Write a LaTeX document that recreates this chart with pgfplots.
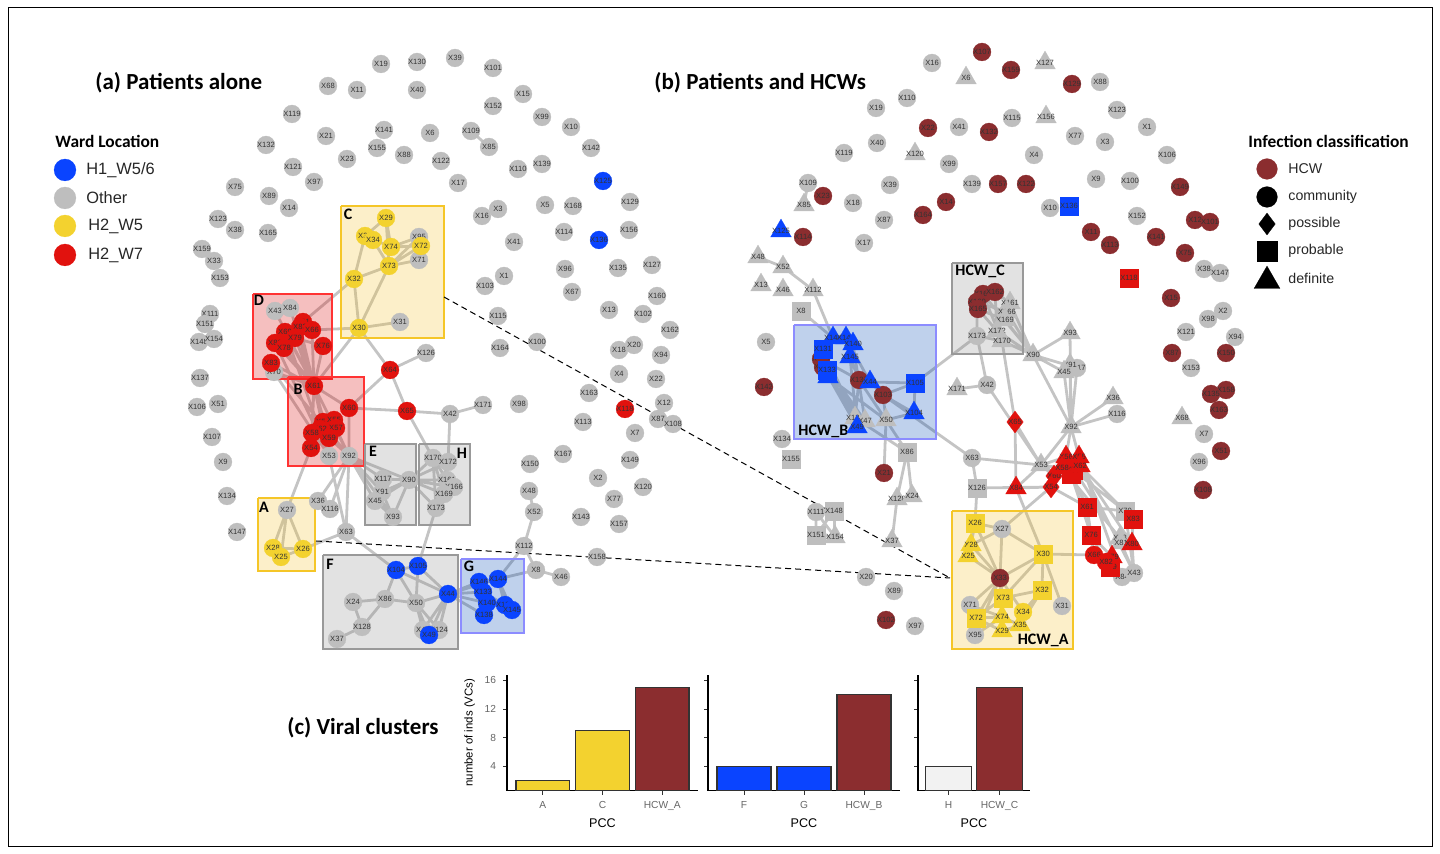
\documentclass[border=0pt]{standalone}
\usepackage{pgfplots}
\pgfplotsset{compat=1.18}
\usepackage{fontspec}
\setmainfont{Liberation Sans}
\newfontfamily\carl{Carlito}
\definecolor{cgray}{HTML}{BEBEBE}
\definecolor{cblue}{HTML}{0A44FF}
\definecolor{cyel}{HTML}{F3D22F}
\definecolor{cred}{HTML}{E1120E}
\definecolor{chcw}{HTML}{8B2D2F}
\definecolor{cedge}{HTML}{C4C4C4}
\newcommand\lab{\fontsize{3.8}{4}\selectfont}
\pgfplotsset{
 ndbase/.style={only marks, nodes near coords, point meta=explicit symbolic,
   nodes near coords align={center},
   every node near coord/.append style={font=\lab, text=black!80, inner sep=0pt}},
 ndc/.style={ndbase, mark=*, mark size=4.5pt, mark options={draw=#1, fill=#1, line width=0.1pt}},
 ndt/.style={ndbase, mark=triangle*, mark size=6pt, mark options={draw=#1, fill=#1, line width=0.1pt}},
 nds/.style={ndbase, mark=square*, mark size=4.5pt, mark options={draw=#1, fill=#1, line width=0.1pt}},
 ndd/.style={ndbase, mark=diamond*, mark size=5.5pt, mark options={draw=#1, fill=#1, line width=0.1pt}},
 lg/.style={only marks, mark options={draw=#1, fill=#1, line width=0.1pt}},
 edge/.style={mark=none, color=cedge, line width=1.4pt},
 boxp/.style 2 args={mark=none, fill=#1, fill opacity=0.25, draw=#2, line width=0.6pt},
 barax/.style={width=#1, height=58pt, scale only axis, ymin=0.6, ymax=16.8,
   axis lines*=left, axis line style={-, black, line width=0.6pt},
   ybar, bar width=0.9, bar shift=0pt, ytick={4,8,12,16},
   tick style={black!80, line width=0.5pt}, major tick length=2pt, tick align=outside,
   ticklabel style={font=\fontsize{5.1}{5.5}\selectfont, text=black!60},
   /pgf/number format/assume math mode=true,
   xlabel=PCC, x label style={font=\fontsize{6.3}{6.5}\selectfont, yshift=3pt},
   enlarge x limits=false, xtick={0,1,2}},
 bar/.style={fill=#1, draw=black!80, line width=0.6pt},
}
\begin{document}
\begin{tikzpicture}
\useasboundingbox (0,0) rectangle (720pt,427pt);
\begin{axis}[width=720pt, height=427pt, scale only axis, at={(0,0)}, anchor=south west,
  xmin=0, xmax=1440, ymin=0, ymax=854, y dir=reverse, axis lines=none, ticks=none,
  clip=false, unbounded coords=jump]
% frame
\addplot[mark=none, black, line width=0.5pt] coordinates {(8,8) (1432,8) (1432,846) (8,846) (8,8)};
% ---------------- panel (a) edges
\addplot[edge] coordinates {
(471,131) (489,147) (nan,nan)
(386,218) (365,236) (nan,nan) (386,218) (391,247) (nan,nan) (386,218) (389,266) (nan,nan)
(365,236) (354,279) (nan,nan) (373,240) (389,266) (nan,nan) (365,236) (391,247) (nan,nan)
(391,247) (421,246) (nan,nan) (391,247) (419,237) (nan,nan) (389,266) (419,260) (nan,nan)
(389,266) (421,246) (nan,nan) (389,266) (354,279) (nan,nan) (389,266) (419,237) (nan,nan)
(354,279) (359,328) (nan,nan) (389,266) (359,328) (nan,nan) (359,328) (400,322) (nan,nan)
(359,328) (390,370) (nan,nan) (359,328) (312,330) (nan,nan) (354,279) (303,322) (nan,nan)
(359,328) (314,386) (nan,nan)
(275,311) (314,386) (nan,nan) (290,308) (314,386) (nan,nan) (285,332) (314,386) (nan,nan)
(275,343) (314,386) (nan,nan) (284,348) (314,386) (nan,nan) (271,363) (314,386) (nan,nan)
(274,372) (314,386) (nan,nan) (295,338) (314,386) (nan,nan) (323,346) (314,386) (nan,nan)
(312,330) (314,386) (nan,nan) (300,327) (314,386) (nan,nan)
(275,311) (290,308) (nan,nan) (285,332) (300,327) (nan,nan) (300,327) (312,330) (nan,nan)
(275,343) (284,348) (nan,nan) (295,338) (323,346) (nan,nan)
(314,386) (329,456) (nan,nan) (314,386) (349,456) (nan,nan) (314,386) (329,438) (nan,nan)
(314,386) (311,448) (nan,nan) (314,386) (312,433) (nan,nan)
(275,343) (329,456) (nan,nan) (271,363) (349,456) (nan,nan) (285,332) (329,456) (nan,nan)
(274,372) (329,456) (nan,nan)
(314,386) (349,408) (nan,nan) (349,408) (390,370) (nan,nan) (349,408) (407,411) (nan,nan)
(349,408) (349,456) (nan,nan) (390,370) (426,353) (nan,nan) (390,370) (407,411) (nan,nan)
(407,411) (450,414) (nan,nan) (450,414) (483,405) (nan,nan) (450,414) (448,462) (nan,nan)
(407,411) (433,458) (nan,nan)
(323,422) (334,420) (nan,nan) (323,422) (320,429) (nan,nan) (334,420) (336,428) (nan,nan)
(336,428) (329,438) (nan,nan) (312,433) (329,438) (nan,nan) (311,448) (312,433) (nan,nan)
(329,438) (349,456) (nan,nan) (336,428) (349,456) (nan,nan) (329,456) (329,438) (nan,nan)
(311,448) (287,510) (nan,nan)
(287,510) (273,548) (nan,nan) (287,510) (281,557) (nan,nan) (287,510) (303,549) (nan,nan)
(273,548) (281,557) (nan,nan) (281,557) (303,549) (nan,nan) (273,548) (303,549) (nan,nan)
(303,549) (346,532) (nan,nan) (346,532) (349,456) (nan,nan) (329,456) (346,532) (nan,nan)
(346,532) (396,570) (nan,nan)
(349,456) (318,501) (nan,nan) (349,456) (330,509) (nan,nan) (349,456) (383,479) (nan,nan)
(349,456) (382,492) (nan,nan) (349,456) (375,501) (nan,nan) (349,456) (393,517) (nan,nan)
(349,456) (409,480) (nan,nan)
(409,480) (383,479) (nan,nan) (409,480) (382,492) (nan,nan) (409,480) (375,501) (nan,nan)
(409,480) (393,517) (nan,nan) (382,492) (375,501) (nan,nan) (375,501) (393,517) (nan,nan)
(382,492) (393,517) (nan,nan) (383,479) (382,492) (nan,nan) (409,480) (433,458) (nan,nan)
(409,480) (448,462) (nan,nan) (409,480) (447,480) (nan,nan) (409,480) (454,487) (nan,nan)
(409,480) (444,494) (nan,nan) (409,480) (436,508) (nan,nan) (433,458) (436,508) (nan,nan)
(448,462) (436,508) (nan,nan) (433,458) (447,480) (nan,nan) (433,458) (444,494) (nan,nan)
(444,494) (436,508) (nan,nan) (454,487) (436,508) (nan,nan) (447,480) (436,508) (nan,nan)
(436,508) (418,566) (nan,nan)
(396,570) (418,566) (nan,nan) (396,570) (385,599) (nan,nan) (396,570) (416,603) (nan,nan)
(418,566) (416,603) (nan,nan) (418,566) (448,594) (nan,nan) (396,570) (448,594) (nan,nan)
(448,594) (416,603) (nan,nan) (448,594) (423,630) (nan,nan) (448,594) (439,630) (nan,nan)
(448,594) (429,635) (nan,nan) (416,603) (423,630) (nan,nan) (416,603) (439,630) (nan,nan)
(385,599) (416,603) (nan,nan) (385,599) (353,602) (nan,nan) (385,599) (362,627) (nan,nan)
(353,602) (362,627) (nan,nan) (362,627) (337,639) (nan,nan) (416,603) (429,635) (nan,nan)
(448,594) (479,582) (nan,nan) (448,594) (483,592) (nan,nan) (448,594) (487,603) (nan,nan)
(448,594) (484,615) (nan,nan) (448,594) (498,579) (nan,nan) (479,582) (498,579) (nan,nan)
(479,582) (483,592) (nan,nan) (483,592) (487,603) (nan,nan) (487,603) (505,605) (nan,nan)
(505,605) (512,610) (nan,nan) (487,603) (484,615) (nan,nan) (498,579) (505,605) (nan,nan)
(498,579) (512,610) (nan,nan) (483,592) (505,605) (nan,nan)
(498,579) (524,546) (nan,nan) (498,579) (536,570) (nan,nan) (524,546) (534,512) (nan,nan)
(534,512) (529,491) (nan,nan) (524,546) (536,570) (nan,nan) (536,570) (561,577)
};
% ---------------- panel (b) edges
\addplot[edge] coordinates {
(808,183) (804,205) (nan,nan)
(758,257) (783,267) (nan,nan) (783,267) (813,290) (nan,nan) (813,290) (833,338) (nan,nan)
(801,311) (833,338) (nan,nan)
(833,338) (823,349) (nan,nan) (846,338) (853,344) (nan,nan) (853,344) (850,357) (nan,nan)
(823,349) (821,359) (nan,nan) (821,359) (823,367) (nan,nan) (823,367) (827,370) (nan,nan)
(827,370) (828,377) (nan,nan) (833,338) (846,338) (nan,nan) (850,357) (859,380) (nan,nan)
(859,380) (870,382) (nan,nan) (870,382) (883,395) (nan,nan) (823,349) (855,418) (nan,nan)
(821,359) (865,421) (nan,nan) (823,367) (857,427) (nan,nan) (828,377) (886,420) (nan,nan)
(827,370) (855,418) (nan,nan) (850,357) (857,427) (nan,nan) (853,344) (865,421) (nan,nan)
(859,380) (855,418) (nan,nan) (859,380) (886,420) (nan,nan) (846,338) (870,382) (nan,nan)
(828,377) (865,421) (nan,nan) (821,359) (859,380) (nan,nan)
(883,395) (915,383) (nan,nan) (883,395) (914,413) (nan,nan) (883,395) (886,420) (nan,nan)
(915,383) (914,413) (nan,nan) (870,382) (915,383) (nan,nan) (914,413) (886,420) (nan,nan)
(883,395) (972,458) (nan,nan) (915,383) (977,336) (nan,nan)
(886,420) (907,452) (nan,nan) (886,420) (884,473) (nan,nan) (855,418) (907,452) (nan,nan)
(907,452) (897,499) (nan,nan) (907,452) (912,496) (nan,nan) (897,499) (892,541) (nan,nan)
(816,512) (834,511) (nan,nan) (816,512) (816,535) (nan,nan) (834,511) (835,537) (nan,nan)
(816,535) (835,537) (nan,nan) (834,511) (816,535) (nan,nan) (816,512) (835,537) (nan,nan)
(977,302) (977,336) (nan,nan) (978,309) (997,331) (nan,nan) (983,294) (1002,341) (nan,nan)
(995,292) (997,331) (nan,nan) (1010,303) (1033,355) (nan,nan) (1007,312) (1033,355) (nan,nan)
(1005,320) (1033,355) (nan,nan) (997,331) (1033,355) (nan,nan) (1002,341) (1033,355) (nan,nan)
(977,336) (1002,341) (nan,nan) (977,302) (1007,312) (nan,nan) (978,309) (1005,320) (nan,nan)
(983,294) (1033,355) (nan,nan) (995,292) (1010,303) (nan,nan)
(977,336) (987,385) (nan,nan) (987,385) (957,389) (nan,nan) (987,385) (1041,465) (nan,nan)
(1002,341) (1015,422) (nan,nan) (1015,422) (1016,488) (nan,nan) (1015,422) (1041,465) (nan,nan)
(972,458) (1041,465) (nan,nan) (972,458) (977,488) (nan,nan) (977,488) (975,523) (nan,nan)
(977,488) (1051,487) (nan,nan)
(1033,355) (1070,333) (nan,nan) (1033,355) (1064,372) (nan,nan) (1033,355) (1077,368) (nan,nan)
(1033,355) (1071,427) (nan,nan) (1070,333) (1071,427) (nan,nan) (1064,372) (1071,427) (nan,nan)
(1077,368) (1071,427) (nan,nan) (1070,365) (1071,427) (nan,nan) (1113,398) (1071,427) (nan,nan)
(1117,414) (1071,427) (nan,nan) (1071,427) (1041,465) (nan,nan) (1071,427) (1066,457) (nan,nan)
(1071,427) (1079,457) (nan,nan)
(1016,488) (1051,487) (nan,nan) (1051,487) (1054,476) (nan,nan) (1054,476) (1062,468) (nan,nan)
(1066,457) (1079,457) (nan,nan) (1062,468) (1071,474) (nan,nan) (1071,474) (1080,466) (nan,nan)
(1079,457) (1080,466) (nan,nan) (1041,465) (1066,457) (nan,nan) (1041,465) (1062,468) (nan,nan)
(1041,465) (1054,476) (nan,nan) (1041,465) (1016,488) (nan,nan) (1051,487) (1087,507) (nan,nan)
(1071,474) (1087,507) (nan,nan) (1071,474) (1091,535) (nan,nan) (1080,466) (1125,511) (nan,nan)
(1080,466) (1133,519) (nan,nan) (1080,466) (1132,544) (nan,nan) (1079,457) (1122,577) (nan,nan)
(1080,466) (1134,573) (nan,nan) (1087,507) (1125,511) (nan,nan) (1087,507) (1094,555) (nan,nan)
(1091,535) (1112,557) (nan,nan) (1091,535) (1106,562) (nan,nan) (1125,511) (1133,519) (nan,nan)
(1133,519) (1132,544) (nan,nan) (1125,511) (1134,573) (nan,nan) (1132,544) (1134,573) (nan,nan)
(1112,557) (1122,577) (nan,nan) (1094,555) (1106,562) (nan,nan) (1106,562) (1110,567) (nan,nan)
(1110,567) (1122,577) (nan,nan) (1120,538) (1132,544) (nan,nan) (1121,543) (1134,573) (nan,nan)
(1073,470) (1125,511) (nan,nan) (1062,468) (1120,538) (nan,nan) (1066,457) (1121,543) (nan,nan)
(1016,488) (1043,554) (nan,nan) (1051,487) (1002,529) (nan,nan) (1094,555) (1043,554) (nan,nan)
(975,523) (1002,529) (nan,nan) (975,523) (971,545) (nan,nan) (975,523) (1000,578) (nan,nan)
(1002,529) (971,545) (nan,nan) (1002,529) (1000,578) (nan,nan) (971,545) (968,556) (nan,nan)
(968,556) (1000,578) (nan,nan) (971,545) (1000,578) (nan,nan) (1043,554) (1000,578) (nan,nan)
(1043,554) (1042,590) (nan,nan) (1043,554) (1062,606) (nan,nan) (1043,554) (1003,598) (nan,nan)
(1000,578) (970,605) (nan,nan) (1000,578) (1003,598) (nan,nan) (1000,578) (976,618) (nan,nan)
(1000,578) (1002,617) (nan,nan) (1000,578) (1002,631) (nan,nan) (1000,578) (1023,612) (nan,nan)
(1000,578) (975,635) (nan,nan) (1042,590) (1003,598) (nan,nan) (1042,590) (1023,612) (nan,nan)
(1042,590) (1020,625) (nan,nan) (1003,598) (1002,617) (nan,nan) (1003,598) (976,618) (nan,nan)
(970,605) (976,618) (nan,nan) (976,618) (1002,617) (nan,nan) (1002,617) (1002,631) (nan,nan)
(1002,617) (1020,625) (nan,nan) (975,635) (1002,617) (nan,nan) (1002,631) (1020,625) (nan,nan)
(970,605) (1002,617) (nan,nan) (976,618) (1002,631) (nan,nan) (975,635) (976,618) (nan,nan)
(1002,529) (1043,554)
};
% ---------------- panel (a) nodes
\addplot[ndc=cgray] table[meta=l] {
x y l
381 64 X19
417 62 X130
455 58 X39
493 68 X101
328 86 X68
357 90 X11
417 90 X40
523 94 X15
493 106 X152
292 114 X119
542 117 X99
571 127 X10
326 136 X21
384 130 X141
430 133 X6
471 131 X109
266 145 X132
377 148 X155
404 155 X88
489 147 X85
591 148 X142
347 159 X23
441 161 X122
293 167 X121
518 169 X110
542 164 X139
314 182 X97
458 183 X17
235 187 X75
269 196 X89
289 208 X14
498 209 X3
482 216 X16
545 205 X5
573 206 X168
630 202 X129
218 219 X123
235 230 X38
268 233 X165
514 242 X41
564 232 X114
629 230 X156
202 249 X159
214 261 X33
220 278 X153
504 276 X1
485 286 X103
565 269 X96
618 268 X135
652 265 X127
572 292 X67
657 296 X160
609 310 X13
643 314 X102
498 316 X115
670 330 X162
537 342 X100
500 348 X164
619 350 X18
634 345 X20
661 355 X94
619 374 X4
656 379 X22
589 393 X163
664 403 X12
658 419 X87
673 424 X108
583 422 X113
635 433 X7
519 404 X98
483 405 X171
563 454 X167
530 464 X150
630 460 X149
598 478 X2
643 487 X120
529 491 X48
614 499 X77
534 512 X52
581 517 X143
619 524 X157
524 546 X112
597 557 X158
536 570 X8
561 577 X46
210 314 X111
205 324 X151
199 342 X148
214 339 X154
200 378 X137
197 407 X106
218 404 X51
212 437 X107
223 462 X9
227 496 X134
237 532 X147
426 353 X126
450 414 X42
400 322 X31
419 237 X95
419 260 X71
287 510 X27
318 501 X36
330 509 X116
346 532 X63
329 456 X53
349 456 X92
275 311 X43
290 308 X84
274 372 X70
433 458 X170
448 462 X172
383 479 X117
409 480 X90
382 492 X91
375 501 X45
393 517 X93
447 480 X161
454 487 X166
444 494 X169
436 508 X173
353 602 X24
385 599 X86
416 603 X50
362 627 X128
337 639 X37
423 630 X47
439 630 X124
};
\addplot[ndc=cblue] table[meta=l] {
x y l
603 181 X125
599 240 X136
396 570 X104
418 566 X105
448 594 X44
429 635 X49
479 582 X146
498 579 X144
483 592 X133
487 603 X140
505 605 X131
512 610 X145
484 615 X138
};
\addplot[ndc=cyel] table[meta=l] {
x y l
386 218 X29
365 236 X35
373 240 X34
391 247 X74
421 246 X72
389 266 X73
354 279 X32
359 328 X30
273 548 X28
281 557 X25
303 549 X26
};
\addplot[ndc=cred] table[meta=l] {
x y l
303 322 X81
300 327 X82
285 332 X69
312 330 X66
295 338 X79
275 343 X80
284 348 X78
323 346 X76
271 363 X83
314 386 X61
390 370 X64
349 408 X60
407 411 X65
323 422 X56
334 420 X55
320 429 X62
336 428 X57
312 433 X58
329 438 X59
311 448 X54
625 409 X118
};
% ---------------- panel (b) nodes
\addplot[ndc=cgray] table[meta=l] {
x y l
932 63 X16
1100 82 X88
876 108 X19
907 98 X110
959 127 X41
1012 118 X115
1117 110 X123
1147 127 X1
1075 136 X77
1105 142 X3
877 143 X40
844 153 X119
949 164 X99
1034 155 X4
1167 155 X106
808 183 X109
890 185 X39
972 184 X139
1096 179 X9
1130 181 X100
853 203 X18
884 220 X87
1050 208 X10
1137 216 X152
864 243 X17
1204 269 X38
1220 273 X147
766 342 X5
782 439 X134
977 336 X173
987 385 X42
972 458 X63
1223 311 X2
1208 319 X98
1186 332 X121
1235 337 X94
1191 368 X153
1204 434 X7
1199 462 X96
1117 414 X116
1077 368 X117
816 512 X111
1002 529 X27
970 605 X71
1062 606 X31
975 635 X95
1122 577 X84
1134 573 X43
866 577 X20
894 591 X89
915 626 X97
};
\addplot[ndt=cgray] table[meta=l] {
x y l
966 78 X6
1045 63 X127
1046 117 X156
915 154 X120
804 205 X85
758 257 X48
783 267 X52
761 285 X13
783 290 X46
813 290 X112
1010 303 X161
1007 312 X166
1005 320 X169
997 331 X172
1002 341 X170
1033 355 X90
957 389 X171
1070 333 X93
1070 365 X91
1064 372 X45
1113 398 X36
1071 427 X92
1041 465 X53
1182 418 X68
855 418 X124
865 421 X47
886 420 X50
897 499 X128
912 496 X24
892 541 X37
835 537 X154
1120 538 X78
1121 543 X81
};
\addplot[nds=cgray] table[meta=l] {
x y l
801 311 X8
907 452 X86
977 488 X126
791 459 X155
834 511 X148
816 535 X151
1125 511 X70
};
\addplot[ndc=chcw] table[meta=l] {
x y l
982 52 X107
1011 70 X159
1072 84 X129
928 128 X22
989 132 X132
823 196 X23
998 184 X157
1026 184 X122
1180 187 X149
946 202 X14
923 215 X164
1195 220 X12
1210 222 X101
803 237 X114
1091 232 X11
1110 245 X113
1156 237 X141
1185 253 X75
764 387 X142
821 359 X130
823 367 X143
859 380 X137
883 395 X103
884 473 X21
886 620 X102
1171 298 X15
1172 353 X87
1226 353 X150
1226 390 X158
1211 394 X135
1219 410 X163
1221 451 X51
1203 490 X108
1000 578 X33
983 294 X167
995 292 X162
977 302 X160
978 309 X165
};
\addplot[ndt=cblue] table[meta=l] {
x y l
781 231 X125
833 338 X144
846 338 X146
853 344 X140
850 357 X145
828 377 X138
870 382 X44
914 413 X104
857 427 X49
};
\addplot[nds=cblue] table[meta=l] {
x y l
1069 206 X136
823 349 X131
827 370 X133
915 383 X105
};
\addplot[nds=cred] table[meta=l] {
x y l
1129 278 X118
1087 507 X61
1133 519 X83
1091 535 X76
1071 474 X57
1110 567 X69
1073 470 X59
};
\addplot[ndd=cred] table[meta=l] {
x y l
1015 422 X65
1054 476 X60
1051 487 X54
};
\addplot[ndt=cred] table[meta=l] {
x y l
1016 488 X84
1066 457 X56
1079 457 X55
1080 466 X62
1062 468 X58
1132 544 X80
1112 557 X79
};
\addplot[ndc=cred] table[meta=l] {
x y l
1094 555 X66
1106 562 X82
};
\addplot[nds=cyel] table[meta=l] {
x y l
975 523 X26
1043 554 X30
1042 590 X32
1003 598 X73
976 618 X72
};
\addplot[ndt=cyel] table[meta=l] {
x y l
971 545 X28
968 556 X25
1002 617 X74
1020 625 X35
1002 631 X29
};
\addplot[ndc=cyel] table[meta=l] {
x y l
1023 612 X34
};
% ---------------- boxes
\addplot[boxp={cyel!80!orange}{cyel!85!orange}] coordinates {(341,206) (444,206) (444,338) (341,338) (341,206)};
\addplot[boxp={red!85!black}{red!80!white}] coordinates {(253,294) (332,294) (332,379) (253,379) (253,294)};
\addplot[boxp={red!85!black}{red!80!white}] coordinates {(288,377) (364,377) (364,466) (288,466) (288,377)};
\addplot[boxp={black!45}{black!40}] coordinates {(365,444) (416,444) (416,525) (365,525) (365,444)};
\addplot[boxp={black!45}{black!40}] coordinates {(419,444) (470,444) (470,525) (419,525) (419,444)};
\addplot[boxp={cyel!80!orange}{cyel!85!orange}] coordinates {(258,498) (315,498) (315,571) (258,571) (258,498)};
\addplot[boxp={black!45}{black!40}] coordinates {(323,555) (458,555) (458,649) (323,649) (323,555)};
\addplot[boxp={blue!60!cyan!70!black}{blue!45!white}] coordinates {(461,559) (524,559) (524,633) (461,633) (461,559)};
\addplot[boxp={blue!60!cyan!70!black}{blue!45!white}] coordinates {(794,325) (936,325) (936,439) (794,439) (794,325)};
\addplot[boxp={black!45}{black!40}] coordinates {(952,263) (1023,263) (1023,354) (952,354) (952,263)};
\addplot[boxp={cyel!80!orange}{cyel!85!orange}] coordinates {(952,511) (1073,511) (1073,649) (952,649) (952,511)};
% dashed connectors
\addplot[mark=none, black, densely dashed, line width=0.5pt] coordinates {(444,297) (950,578)};
\addplot[mark=none, black, densely dashed, line width=0.5pt] coordinates {(316,541) (950,578)};
% box labels
\begin{scope}[every node/.style={font=\carl\bfseries\fontsize{8}{8}\selectfont, inner sep=0pt}]
\node at (axis cs:348,214) {C};
\node at (axis cs:259,300) {D};
\node at (axis cs:298,389) {B};
\node at (axis cs:373,451) {E};
\node at (axis cs:462,453) {H};
\node at (axis cs:264,507) {A};
\node at (axis cs:330,564) {F};
\node at (axis cs:469,566) {G};
\node[anchor=west] at (axis cs:955,271) {HCW\_C};
\node[anchor=west] at (axis cs:798,431) {HCW\_B};
\node[anchor=east] at (axis cs:1069,640) {HCW\_A};
\end{scope}
% titles
\node[anchor=west, font=\carl\bfseries\fontsize{11.5}{12}\selectfont, inner sep=0pt] at (axis cs:95,83) {(a) Patients alone};
\node[anchor=west, font=\carl\bfseries\fontsize{11.5}{12}\selectfont, inner sep=0pt] at (axis cs:654,83) {(b) Patients and HCWs};
\node[anchor=west, font=\carl\bfseries\fontsize{11.5}{12}\selectfont, inner sep=0pt] at (axis cs:287,728) {(c) Viral clusters};
% legend (a)
\node[anchor=west, font=\carl\bfseries\fontsize{8.7}{9}\selectfont, inner sep=0pt] at (axis cs:55,141) {Ward Location};
\addplot[lg=cblue, mark=*, mark size=5.5pt] coordinates {(65,170)};
\addplot[lg=cgray, mark=*, mark size=5.5pt] coordinates {(65,198)};
\addplot[lg=cyel, mark=*, mark size=5.5pt] coordinates {(65,226)};
\addplot[lg=cred, mark=*, mark size=5.5pt] coordinates {(65,255)};
\begin{scope}[every node/.style={anchor=west, font=\fontsize{8.2}{9}\selectfont, inner sep=0pt, text=black!85}]
\node at (axis cs:86,170) {H1\_W5/6};
\node at (axis cs:86,198) {Other};
\node at (axis cs:88,226) {H2\_W5};
\node at (axis cs:88,255) {H2\_W7};
\end{scope}
% legend (b)
\node[anchor=west, font=\carl\bfseries\fontsize{8.7}{9}\selectfont, inner sep=0pt] at (axis cs:1248,141) {Infection classification};
\addplot[lg=chcw, mark=*, mark size=5.2pt] coordinates {(1267,169)};
\addplot[lg=black, mark=*, mark size=5.2pt] coordinates {(1267,197)};
\addplot[lg=black, mark=diamond*, mark size=5.5pt] coordinates {(1267,224)};
\addplot[lg=black, mark=square*, mark size=5pt] coordinates {(1267,251)};
\addplot[lg=black, mark=triangle*, mark size=7.5pt] coordinates {(1267,281)};
\begin{scope}[every node/.style={anchor=west, font=\fontsize{7.1}{8}\selectfont, inner sep=0pt, text=black!85}]
\node at (axis cs:1288,169) {HCW};
\node at (axis cs:1288,197) {community};
\node at (axis cs:1288,224) {possible};
\node at (axis cs:1288,251) {probable};
\node at (axis cs:1288,278) {definite};
\end{scope}
\end{axis}
% ---------------- (c) bar charts
\begin{axis}[barax=95.5pt, at={(253.5pt,31.65pt)}, anchor=south west,
  xmin=-0.6, xmax=2.6, xticklabels={A,C,HCW\_A},
  ylabel={number of inds (VCs)}, y label style={font=\fontsize{5.7}{6}\selectfont, yshift=-2pt}]
\addplot[bar=cyel] coordinates {(0,2)};
\addplot[bar=cyel] coordinates {(1,9)};
\addplot[bar=chcw] coordinates {(2,15)};
\end{axis}
\begin{axis}[barax=96pt, at={(354pt,31.65pt)}, anchor=south west,
  xmin=-0.6, xmax=2.6, xticklabels={F,G,HCW\_B}, yticklabels={}]
\addplot[bar=cblue] coordinates {(0,4)};
\addplot[bar=cblue] coordinates {(1,4)};
\addplot[bar=chcw] coordinates {(2,14)};
\end{axis}
\begin{axis}[barax=56pt, at={(459pt,31.65pt)}, anchor=south west,
  xmin=-0.6, xmax=1.6, xtick={0,1}, xticklabels={H,HCW\_C}, yticklabels={}]
\addplot[bar=black!5] coordinates {(0,4)};
\addplot[bar=chcw] coordinates {(1,15)};
\end{axis}
\end{tikzpicture}
\end{document}
